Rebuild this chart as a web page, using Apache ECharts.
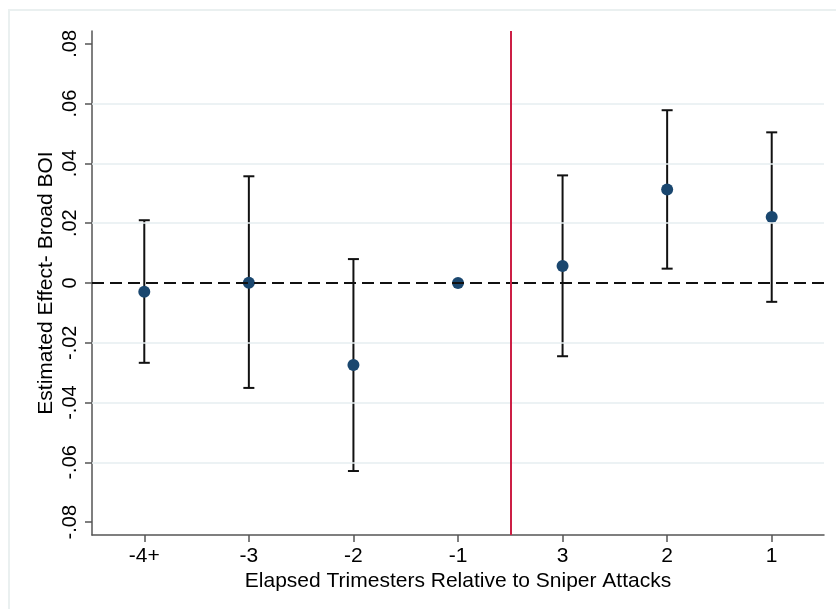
<!DOCTYPE html>
<html>
<head>
<meta charset="utf-8">
<script src="https://cdn.jsdelivr.net/npm/echarts@6/dist/echarts.min.js"></script>
<style>html,body{margin:0;padding:0;background:#fff}#c{width:836px;height:609px}</style>
</head>
<body>
<div id="c"></div>
<script>
var categories = ['-4+', '-3', '-2', '-1', '3', '2', '1'];
var coef   = [-0.0029, 0.0001, -0.0274, 0.0000, 0.0057, 0.0313, 0.0221];
var ciLow  = [-0.0267, -0.0351, -0.0629, null, -0.0245, 0.0048, -0.0063];
var ciHigh = [ 0.0210,  0.0357,  0.0080, null,  0.0360, 0.0578,  0.0504];
var yTicks = [-0.08, -0.06, -0.04, -0.02, 0, 0.02, 0.04, 0.06, 0.08];
var gridVals = [-0.06, -0.04, -0.02, 0.02, 0.04, 0.06];
var xPositions = [0, 1, 2, 3, 4, 5, 6];
var eventLinePos = 3.5;
var xTitle = 'Elapsed Trimesters Relative to Sniper Attacks';
var yTitle = 'Estimated Effect- Broad BOI';

var FONT = '"Liberation Sans", Arial, Helvetica, sans-serif';

function fmt(v) {
  var r = Math.round(v * 100) / 100;
  if (r === 0) return '0';
  var s = Math.abs(r).toFixed(2).replace(/^0/, '');
  return (r < 0 ? '-' : '') + s;
}

var ciData = [];
for (var i = 0; i < categories.length; i++) {
  if (ciLow[i] !== null) ciData.push([xPositions[i], ciLow[i], ciHigh[i]]);
}

var chart = echarts.init(document.getElementById('c'));
chart.setOption({
  animation: false,
  backgroundColor: '#ffffff',
  graphic: [{
    type: 'rect', shape: { x: 9, y: 10, width: 900, height: 700 },
    style: { fill: 'none', stroke: '#eaf0f0', lineWidth: 2 }, z: -1, silent: true
  }],
  grid: { left: 92, right: 12, top: 31, bottom: 74, containLabel: false },
  xAxis: {
    type: 'value',
    min: -0.5,
    max: 6.5,
    name: xTitle,
    nameLocation: 'middle',
    nameGap: 36,
    nameMoveOverlap: false,
    nameTextStyle: { fontFamily: FONT, fontSize: 21, color: '#000' },
    axisLine: { show: true, onZero: false, lineStyle: { color: '#555', width: 1.5 } },
    axisTick: { show: true, length: 7, customValues: xPositions, lineStyle: { color: '#555', width: 1.5 } },
    axisLabel: { fontFamily: FONT, fontSize: 21, color: '#000', margin: 11,
      customValues: xPositions,
      formatter: function (v) { return categories[Math.round(v)]; } },
    splitLine: { show: false }
  },
  yAxis: {
    type: 'value',
    min: -0.0843,
    max: 0.0843,
    name: yTitle,
    nameLocation: 'middle',
    nameGap: 35,
    nameMoveOverlap: false,
    nameRotate: 90,
    nameTextStyle: { fontFamily: FONT, fontSize: 21, color: '#000' },
    axisLine: { show: true, onZero: false, lineStyle: { color: '#555', width: 1.5 } },
    axisTick: { show: true, length: 7, customValues: yTicks, lineStyle: { color: '#555', width: 1.5 } },
    axisLabel: { fontFamily: FONT, fontSize: 20, color: '#000', rotate: 90, margin: 12,
      customValues: yTicks, formatter: fmt },
    splitLine: { show: false }
  },
  series: [
    {
      type: 'line', data: [], silent: true,
      markLine: {
        symbol: 'none', silent: true, label: { show: false },
        lineStyle: { color: '#e6eef0', width: 1.5, type: 'solid' },
        data: gridVals.map(function (v) { return { yAxis: v }; })
      },
      z: 0
    },
    {
      type: 'line', data: [], silent: true,
      markLine: {
        symbol: 'none', silent: true, label: { show: false },
        lineStyle: { color: '#111', width: 2, type: [12, 6] },
        data: [{ yAxis: 0 }]
      },
      z: 1
    },
    {
      type: 'line', data: [], silent: true,
      markLine: {
        symbol: 'none', silent: true, label: { show: false },
        lineStyle: { color: '#cc1f45', width: 2, type: 'solid' },
        data: [{ xAxis: eventLinePos }]
      },
      z: 2
    },
    {
      type: 'custom',
      data: ciData,
      z: 3,
      renderItem: function (params, api) {
        var x = api.value(0);
        var lo = api.coord([x, api.value(1)]);
        var hi = api.coord([x, api.value(2)]);
        var hw = 5.5;
        var st = { stroke: '#111', lineWidth: 2 };
        return {
          type: 'group',
          children: [
            { type: 'line', shape: { x1: lo[0], y1: lo[1], x2: hi[0], y2: hi[1] }, style: st },
            { type: 'line', shape: { x1: lo[0] - hw, y1: lo[1], x2: lo[0] + hw, y2: lo[1] }, style: st },
            { type: 'line', shape: { x1: hi[0] - hw, y1: hi[1], x2: hi[0] + hw, y2: hi[1] }, style: st }
          ]
        };
      }
    },
    {
      type: 'scatter',
      data: coef.map(function (v, i) { return [xPositions[i], v]; }),
      symbol: 'circle',
      symbolSize: 12,
      itemStyle: { color: '#1a476f', opacity: 1 },
      z: 4
    }
  ]
});
</script>
</body>
</html>
